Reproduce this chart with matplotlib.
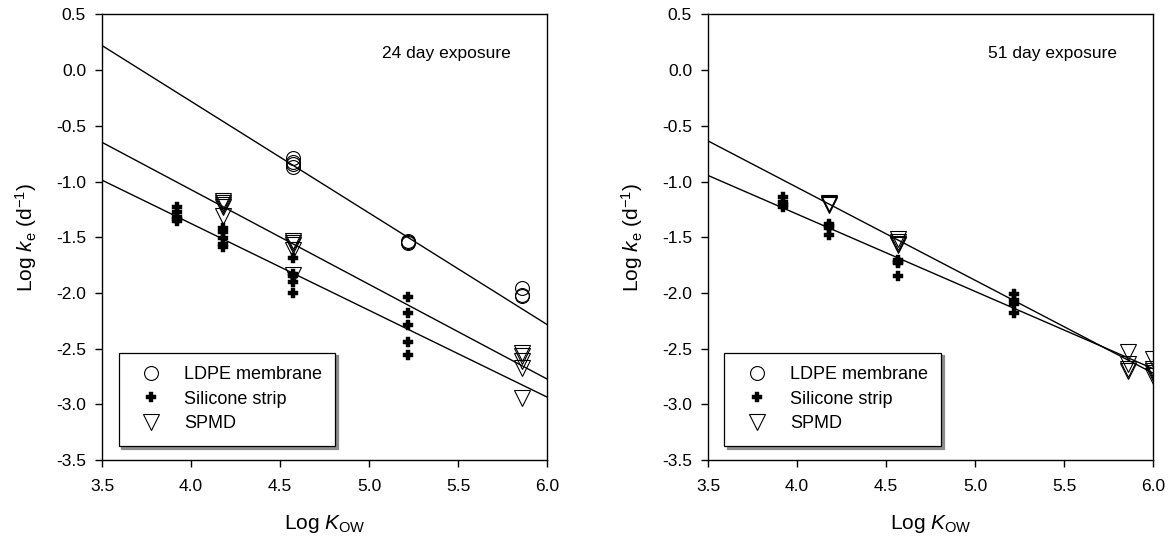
import matplotlib
matplotlib.use('Agg')
import matplotlib.pyplot as plt
import numpy as np

plt.rcParams['font.family'] = ['Liberation Sans', 'DejaVu Sans']
plt.rcParams['mathtext.fontset'] = 'custom'
plt.rcParams['mathtext.rm'] = 'Liberation Sans'
plt.rcParams['mathtext.it'] = 'Liberation Sans:italic'
plt.rcParams['axes.unicode_minus'] = False

# ---- 24 day exposure (left panel) ----
ldpe24_x = [4.57, 4.57, 4.57, 4.57, 5.22, 5.22, 5.22, 5.86, 5.86, 5.86]
ldpe24_y = [-0.79, -0.82, -0.84, -0.87, -1.53, -1.54, -1.55, -1.96, -2.02, -2.03]

sil24_x = [3.92, 3.92, 3.92, 3.92, 3.92,
           4.18, 4.18, 4.18, 4.18, 4.18,
           4.57, 4.57, 4.57, 4.57, 4.57,
           5.22, 5.22, 5.22, 5.22, 5.22]
sil24_y = [-1.23, -1.27, -1.32, -1.34, -1.35,
           -1.42, -1.45, -1.51, -1.56, -1.59,
           -1.69, -1.83, -1.85, -1.90, -2.00,
           -2.04, -2.18, -2.29, -2.44, -2.56]

spmd24_x = [4.18, 4.18, 4.18, 4.18, 4.18,
            4.57, 4.57, 4.57, 4.57, 4.57,
            5.86, 5.86, 5.86, 5.86, 5.86]
spmd24_y = [-1.17, -1.19, -1.21, -1.23, -1.31,
            -1.53, -1.55, -1.57, -1.61, -1.84,
            -2.54, -2.57, -2.61, -2.67, -2.94]

# ---- 51 day exposure (right panel) ----
ldpe51_x = []
ldpe51_y = []

sil51_x = [3.92, 3.92, 3.92, 3.92,
           4.18, 4.18, 4.18, 4.18,
           4.57, 4.57, 4.57, 4.57,
           5.22, 5.22, 5.22, 5.22]
sil51_y = [-1.14, -1.18, -1.21, -1.23,
           -1.38, -1.40, -1.42, -1.48,
           -1.70, -1.72, -1.73, -1.85,
           -2.01, -2.06, -2.10, -2.18]

spmd51_x = [4.18, 4.18, 4.18,
            4.57, 4.57, 4.57, 4.57,
            5.86, 5.86, 5.86, 5.86,
            6.00, 6.00, 6.00, 6.00, 6.00]
spmd51_y = [-1.19, -1.20, -1.21,
            -1.52, -1.54, -1.56, -1.57,
            -2.53, -2.64, -2.68, -2.70,
            -2.59, -2.68, -2.70, -2.72, -2.75]

# regression lines: (slope, intercept)
fits24 = [(-1.002, 3.728), (-0.850, 2.327), (-0.779, 1.739)]
fits51 = [(-0.834, 2.284), (-0.694, 1.484)]

panels = [
    (ldpe24_x, ldpe24_y, sil24_x, sil24_y, spmd24_x, spmd24_y, fits24, '24 day exposure'),
    (ldpe51_x, ldpe51_y, sil51_x, sil51_y, spmd51_x, spmd51_y, fits51, '51 day exposure'),
]

fig = plt.figure(figsize=(11.73, 5.41), dpi=100)
axes = [fig.add_axes([0.0870, 0.1497, 0.3794, 0.8235]),
        fig.add_axes([0.6036, 0.1497, 0.3794, 0.8235])]

xline = np.array([3.5, 6.0])
xt = np.arange(3.5, 6.01, 0.5)
yt = np.arange(-3.5, 0.51, 0.5)

for ax, (lx, ly, sx, sy, px, py, fits, title) in zip(axes, panels):
    for slope, icpt in fits:
        ax.plot(xline, slope * xline + icpt, color='black', lw=1.0, zorder=2)

    ax.plot(lx, ly, linestyle='none', marker='o', ms=10, mfc='none',
            mec='black', mew=0.8, label='LDPE membrane', zorder=3)
    ax.plot(sx, sy, linestyle='none', marker='P', ms=7, mfc='black',
            mec='black', mew=0.3, label='Silicone strip', zorder=3)
    ax.plot(px, py, linestyle='none', marker='v', ms=11, mfc='none',
            mec='black', mew=0.8, label='SPMD', zorder=3)

    ax.set_xlim(3.5, 6.0)
    ax.set_ylim(-3.5, 0.5)
    ax.set_xticks(xt)
    ax.set_yticks(yt)
    ax.set_xticklabels(['%.1f' % v for v in xt])
    ax.set_yticklabels(['%.1f' % v for v in yt])
    ax.tick_params(direction='out', length=5, width=1, labelsize=12.5)
    ax.tick_params(axis='x', pad=9)
    ax.tick_params(axis='y', pad=6.5)
    for sp in ax.spines.values():
        sp.set_linewidth(1.0)

    ax.set_xlabel(r'Log $\it{K}_{\rm OW}$', fontsize=15, labelpad=13)
    ax.set_ylabel(r'Log $\it{k}_{\rm e}$ (d$^{-1}$)', fontsize=15, labelpad=12)

    ax.text(0.629, 0.912, title, transform=ax.transAxes, fontsize=12.5,
            ha='left', va='center')

    leg = ax.legend(loc='lower left', bbox_to_anchor=(0.037, 0.032), fontsize=13,
                    frameon=True, fancybox=False, edgecolor='black',
                    shadow={'color': '0.55', 'alpha': 1}, borderpad=0.75,
                    labelspacing=0.42, handletextpad=0.81, borderaxespad=0,
                    handlelength=2.06)
    leg.get_frame().set_linewidth(0.9)

fig.savefig('out.png', dpi=100)
